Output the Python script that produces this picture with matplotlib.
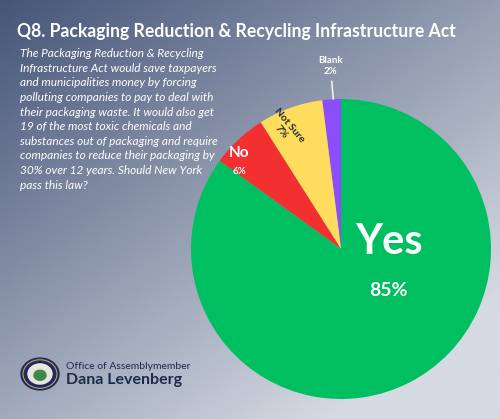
import matplotlib
matplotlib.use("Agg")
import matplotlib.pyplot as plt
import numpy as np
from matplotlib.patches import Circle

labels = ["Blank", "Not Sure", "No", "Yes"]
values = [2, 7, 6, 85]
colors = ["#8c4dfa", "#fedc5e", "#f23030", "#00bf60"]

fig = plt.figure(figsize=(5, 4.19), dpi=100)
bg = fig.add_axes([0, 0, 1, 1])
x = np.linspace(0, 1, 200)
y = np.linspace(0, 1, 200)
X, Y = np.meshgrid(x, y)
t = np.clip((X * 0.6 + Y * 0.7) / 1.1, 0, 1)
c0 = np.array([0x45, 0x55, 0x78]) / 255
c1 = np.array([0xd6, 0xda, 0xe2]) / 255
img = c0[None, None, :] * (1 - t[..., None]) + c1[None, None, :] * t[..., None]
bg.imshow(img, extent=[0, 1, 0, 1], aspect="auto", origin="upper")
bg.set_xlim(0, 1); bg.set_ylim(0, 1); bg.axis("off")

fig.text(0.034, 0.925, "Q8. Packaging Reduction & Recycling Infrastructure Act",
         fontsize=12.7, color="white", fontweight="bold", family="Lato", va="center")
body = ("The Packaging Reduction & Recycling\nInfrastructure Act would save taxpayers\n"
        "and municipalities money by forcing\npolluting companies to pay to deal with\n"
        "their packaging waste. It would also get\n19 of the most toxic chemicals and\n"
        "substances out of packaging and require\ncompanies to reduce their packaging by\n"
        "30% over 12 years. Should New York\npass this law?")
fig.text(0.04, 0.885, body, fontsize=8.6, color="white", style="italic", family="Lato",
         va="top", linespacing=1.4)

ax = fig.add_axes([191/500, 20/419, 300/500, 300/419])
ax.pie(values, colors=colors, startangle=90, counterclock=True,
       wedgeprops=dict(linewidth=0))
ax.set_aspect("equal")
ax.text(0.32, 0.05, "Yes", fontsize=30, color="white", fontweight="bold", family="Lato", ha="center", va="center")
ax.text(0.32, -0.28, "85%", fontsize=14, color="white", fontweight="bold", family="Lato", ha="center", va="center")
ax.text(-0.68, 0.64, "No", fontsize=11, color="white", fontweight="bold", family="Lato", ha="center", va="center")
ax.text(-0.68, 0.52, "6%", fontsize=7, color="white", fontweight="bold", family="Lato", ha="center", va="center")
ax.text(-0.37, 0.8, "Not Sure\n7%", fontsize=7.5, color="#2a2a2a", fontweight="bold", family="Lato",
        ha="center", va="center", rotation=-50, linespacing=1.2)
ax.annotate("Blank\n2%", xy=(-0.05, 0.98), xytext=(-0.07, 1.22), fontsize=7, color="white",
            fontweight="bold", family="Lato", ha="center", va="center", linespacing=1.2,
            arrowprops=dict(arrowstyle="-", color="white", lw=1))
ax.set_xlim(-1, 1); ax.set_ylim(-1, 1)
ax.axis("off")

# seal
sx, sy = 40/500, 1 - 374/419
bg.add_patch(Circle((sx, sy), 0.038, transform=bg.transAxes, color="#1e2a66", zorder=3))
bg.add_patch(Circle((sx, sy), 0.034, transform=bg.transAxes, fc="none", ec="#c8a040", lw=0.8, zorder=4))
bg.add_patch(Circle((sx, sy), 0.024, transform=bg.transAxes, color="#e8e6df", zorder=4))
bg.add_patch(Circle((sx, sy - 0.003), 0.012, transform=bg.transAxes, color="#3a8a4a", zorder=5))
fig.text(66/500, 1 - 371/419, "Office of Assemblymember", fontsize=7.5, color="#1e2a4a", family="Lato", va="bottom")
fig.text(66/500, 1 - 373/419, "Dana Levenberg", fontsize=11.5, color="#1e2a4a", fontweight="bold", family="Lato", va="top")

fig.savefig("out.png", dpi=100)
